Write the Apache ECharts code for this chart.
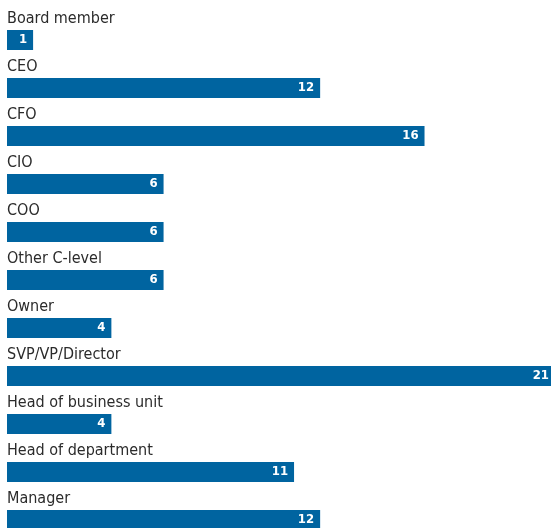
<!DOCTYPE html>
<html>
<head>
<meta charset="utf-8">
<script src="https://cdn.jsdelivr.net/npm/echarts@6/dist/echarts.min.js"></script>
<style>
  html, body { margin: 0; padding: 0; background: #fff; }
  #chart { width: 551px; height: 528px; }
</style>
</head>
<body>
<div id="chart"></div>
<script>
// Respondent roles and counts
const roles = [
  'Board member', 'CEO', 'CFO', 'CIO', 'COO', 'Other C-level',
  'Owner', 'SVP/VP/Director', 'Head of business unit', 'Head of department', 'Manager'
];
const counts = [1, 12, 16, 6, 6, 6, 4, 21, 4, 11, 12];

const FONT = '"DejaVu Sans Condensed", "DejaVu Sans", sans-serif';

const chart = echarts.init(document.getElementById('chart'), null, { renderer: 'canvas' });
chart.setOption({
  animation: false,
  grid: {
    left: 7, top: 16, width: 548, height: 528,
    containLabel: false,
    outerBoundsMode: 'none'
  },
  xAxis: { type: 'value', min: 0, max: 21, show: false },
  yAxis: {
    type: 'category',
    data: roles,
    inverse: true,
    show: false
  },
  series: [
    {
      // value bars with counts inside the bar end
      type: 'bar',
      data: counts,
      barWidth: 20,
      itemStyle: { color: '#0064a0' },
      label: {
        show: true,
        position: 'insideRight',
        distance: 6,
        color: '#fff',
        fontFamily: FONT,
        fontWeight: 'bold',
        fontSize: 13
      },
      z: 2
    },
    {
      // role names set above each bar
      type: 'bar',
      data: counts,
      barWidth: 20,
      barGap: '-100%',
      itemStyle: { color: 'rgba(0,0,0,0)' },
      silent: true,
      label: {
        show: true,
        position: [0, -11],
        align: 'left',
        verticalAlign: 'middle',
        formatter: '{b}',
        color: '#2b2b2b',
        fontFamily: FONT,
        fontSize: 16
      },
      z: 3
    }
  ]
});
</script>
</body>
</html>
